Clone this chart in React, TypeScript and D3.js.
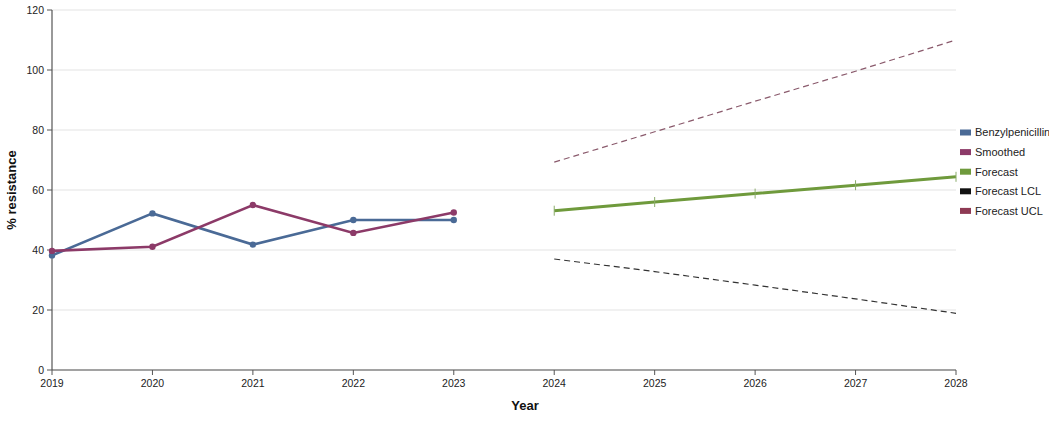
import * as d3 from 'd3';
import * as React from 'react';

type Point = { year: number; value: number };

const years = [2019, 2020, 2021, 2022, 2023];
const observed = [38.2, 52.2, 41.8, 50.0, 50.0];
const smoothed = [39.7, 41.1, 55.0, 45.7, 52.5];

const forecastYears = [2024, 2025, 2026, 2027, 2028];
const forecast = [53.1, 56.0, 58.8, 61.6, 64.4];
const forecastLcl = [37.0, 32.8, 28.3, 23.7, 18.9];
const forecastUcl = [69.3, 79.4, 89.6, 99.6, 110.0];

const yTicks = [0, 20, 40, 60, 80, 100, 120];
const xTicks = [2019, 2020, 2021, 2022, 2023, 2024, 2025, 2026, 2027, 2028];

const legendItems = [
  { name: 'Benzylpenicillin', color: '#4a6a96' },
  { name: 'Smoothed', color: '#8c3a68' },
  { name: 'Forecast', color: '#6f9a3c' },
  { name: 'Forecast LCL', color: '#111111' },
  { name: 'Forecast UCL', color: '#8e3a54' },
];

const zip = (xs: number[], vs: number[]): Point[] => xs.map((year, i) => ({ year, value: vs[i] }));

const W = 1049;
const H = 421;
const margin = { top: 10, left: 52, right: 93, bottom: 51 };
const font = '"Liberation Sans", Arial, sans-serif';

export default function App() {
  const x = d3.scaleLinear().domain([2019, 2028]).range([margin.left, W - margin.right]);
  const y = d3.scaleLinear().domain([0, 120]).range([H - margin.bottom, margin.top]);

  const line = d3
    .line<Point>()
    .x((d) => x(d.year))
    .y((d) => y(d.value));

  const obs = zip(years, observed);
  const smo = zip(years, smoothed);
  const fc = zip(forecastYears, forecast);
  const lcl = zip(forecastYears, forecastLcl);
  const ucl = zip(forecastYears, forecastUcl);

  const [x0, x1] = x.range();
  const [yBottom, yTop] = y.range();

  return (
    <div style={{ position: 'absolute', left: 0, top: 0 }}>
      <svg width={W} height={H} style={{ display: 'block', fontFamily: font }}>
        <rect width={W} height={H} fill="#fff" />

        {/* grid */}
        {yTicks.map((t) => (
          <line key={t} x1={x0} x2={x1} y1={y(t)} y2={y(t)} stroke="#e3e3e3" strokeWidth={1} />
        ))}

        {/* axes */}
        <line x1={x0} x2={x0} y1={yTop} y2={yBottom} stroke="#555" strokeWidth={1.2} />
        <line x1={x0} x2={x1} y1={yBottom} y2={yBottom} stroke="#555" strokeWidth={1.2} />
        {yTicks.map((t) => (
          <g key={t}>
            <line x1={x0 - 5} x2={x0} y1={y(t)} y2={y(t)} stroke="#555" />
            <text x={x0 - 8} y={y(t)} dy="0.35em" textAnchor="end" fontSize={10.5} fill="#222">
              {t}
            </text>
          </g>
        ))}
        {xTicks.map((t) => (
          <g key={t}>
            <line x1={x(t)} x2={x(t)} y1={yBottom} y2={yBottom + 5} stroke="#555" />
            <text x={x(t)} y={yBottom + 17} textAnchor="middle" fontSize={10.5} fill="#222">
              {t}
            </text>
          </g>
        ))}

        <text x={525} y={410} textAnchor="middle" fontSize={13} fontWeight="bold" fill="#111">
          Year
        </text>
        <text
          transform={`translate(16, ${(yTop + yBottom) / 2}) rotate(-90)`}
          textAnchor="middle"
          fontSize={13}
          fontWeight="bold"
          fill="#111"
        >
          % resistance
        </text>

        {/* forecast bounds */}
        <path d={line(ucl) ?? ''} fill="none" stroke="#8a5a6c" strokeWidth={1.2} strokeDasharray="6,4" />
        <path d={line(lcl) ?? ''} fill="none" stroke="#333" strokeWidth={1.2} strokeDasharray="6,4" />

        {/* forecast */}
        <path d={line(fc) ?? ''} fill="none" stroke={legendItems[2].color} strokeWidth={3} />
        {fc.map((d, i) => (
          <line
            key={i}
            x1={x(d.year)}
            x2={x(d.year)}
            y1={y(d.value) - 5}
            y2={y(d.value) + 5}
            stroke="#8aab6a"
            strokeWidth={1}
          />
        ))}

        {/* observed & smoothed */}
        <path d={line(obs) ?? ''} fill="none" stroke={legendItems[0].color} strokeWidth={2.6} />
        <path d={line(smo) ?? ''} fill="none" stroke={legendItems[1].color} strokeWidth={2.6} />
        {obs.map((d, i) => (
          <circle key={`o${i}`} cx={x(d.year)} cy={y(d.value)} r={3.2} fill={legendItems[0].color} />
        ))}
        {smo.map((d, i) => (
          <circle key={`s${i}`} cx={x(d.year)} cy={y(d.value)} r={3.2} fill={legendItems[1].color} />
        ))}

        {/* legend */}
        <g transform="translate(960, 132.5)">
          {legendItems.map((item, i) => (
            <g key={item.name} transform={`translate(0, ${i * 19.6})`}>
              <rect x={0} y={-3} width={11} height={6} fill={item.color} />
              <text x={15} y={0} dy="0.35em" fontSize={11} fill="#222">
                {item.name}
              </text>
            </g>
          ))}
        </g>
      </svg>
    </div>
  );
}
